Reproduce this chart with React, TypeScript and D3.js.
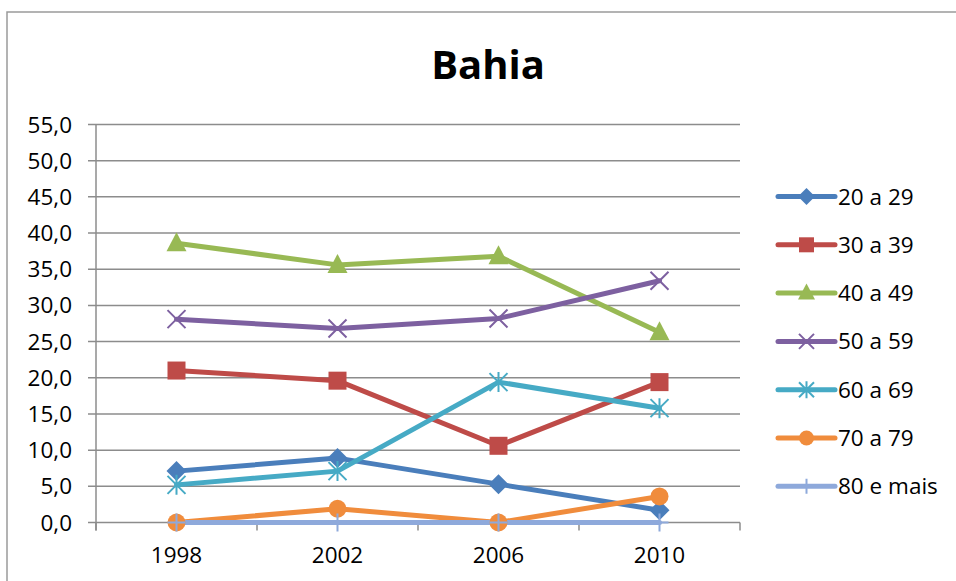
import React from "react";
import * as d3 from "d3";

const years = ["1998", "2002", "2006", "2010"];
const seriesNames = ["20 a 29", "30 a 39", "40 a 49", "50 a 59", "60 a 69", "70 a 79", "80 e mais"];
const s20 = [7.1, 8.9, 5.3, 1.7];
const s30 = [21.0, 19.6, 10.6, 19.4];
const s40 = [38.6, 35.6, 36.8, 26.3];
const s50 = [28.1, 26.8, 28.2, 33.4];
const s60 = [5.2, 7.1, 19.4, 15.8];
const s70 = [0.0, 1.9, 0.0, 3.6];
const s80 = [0.0, 0.0, 0.0, 0.0];
const yTicks = [0, 5, 10, 15, 20, 25, 30, 35, 40, 45, 50, 55];

const seriesValues = [s20, s30, s40, s50, s60, s70, s80];
const colors = ["#4A7EBB", "#BE4B48", "#98B954", "#7D60A0", "#46AAC5", "#F08C3C", "#8EA9DB"];
const markers = ["diamond", "square", "triangle", "x", "star", "circle", "plus"];

const FONT = "'Open Sans', 'Liberation Sans', sans-serif";

function Marker({ type, x, y, color, s = 9 }: { type: string; x: number; y: number; color: string; s?: number }) {
  switch (type) {
    case "diamond":
      return <path d={`M${x},${y - s - 1}L${x + s + 1},${y}L${x},${y + s + 1}L${x - s - 1},${y}Z`} fill={color} />;
    case "square":
      return <rect x={x - s} y={y - s} width={2 * s} height={2 * s} fill={color} />;
    case "triangle":
      return <path d={`M${x},${y - s - 2}L${x + s + 1},${y + s - 1}L${x - s - 1},${y + s - 1}Z`} fill={color} />;
    case "x":
      return (
        <path d={`M${x - s},${y - s}L${x + s},${y + s}M${x - s},${y + s}L${x + s},${y - s}`} stroke={color} strokeWidth={2} />
      );
    case "star":
      return (
        <path
          d={`M${x - s},${y - s}L${x + s},${y + s}M${x - s},${y + s}L${x + s},${y - s}M${x},${y - s - 1}L${x},${y + s + 1}`}
          stroke={color}
          strokeWidth={2}
        />
      );
    case "circle":
      return <circle cx={x} cy={y} r={s} fill={color} />;
    case "plus":
      return <path d={`M${x - s},${y}L${x + s},${y}M${x},${y - s}L${x},${y + s}`} stroke={color} strokeWidth={2} />;
    default:
      return null;
  }
}

export default function App() {
  const W = 956;
  const H = 581;
  const left = 96;
  const right = 740;
  const top = 124.5;
  const bottom = 522.5;

  const x = d3.scaleBand<string>().domain(years).range([left, right]);
  const y = d3.scaleLinear().domain([0, 55]).range([bottom, top]);
  const cx = (yr: string) => (x(yr) as number) + x.bandwidth() / 2;

  const line = d3
    .line<number>()
    .x((_, i) => cx(years[i]))
    .y((d) => y(d));

  const legendX1 = 778;
  const legendX2 = 835;
  const legendY0 = 196.5;
  const legendStep = 48.3;

  const bandEdges = [...years.map((yr) => x(yr) as number), right];

  return (
    <svg
      width={W}
      height={H}
      style={{ position: "absolute", left: 0, top: 0, background: "#fff" }}
      fontFamily={FONT}
    >
      <rect x={0} y={0} width={W} height={H} fill="#fff" />
      {/* chart border */}
      <path d={`M7,${H + 2}L7,12L${W + 2},12`} fill="none" stroke="#9a9a9a" strokeWidth={1.5} />

      <text x={488} y={79} textAnchor="middle" fontSize={40} fontWeight={700} fill="#000">
        Bahia
      </text>

      {/* gridlines */}
      {yTicks.map((t) => (
        <line key={t} x1={left - 8} x2={right} y1={y(t)} y2={y(t)} stroke="#8c8c8c" strokeWidth={1.5} />
      ))}
      {/* y axis */}
      <line x1={left} x2={left} y1={top} y2={bottom + 8} stroke="#8c8c8c" strokeWidth={1.5} />
      {/* x category ticks */}
      {bandEdges.map((e, i) => (
        <line key={i} x1={e} x2={e} y1={bottom} y2={bottom + 8} stroke="#8c8c8c" strokeWidth={1.5} />
      ))}

      {yTicks.map((t) => (
        <text key={t} x={72} y={y(t) + 8} textAnchor="end" fontSize={22.5} fill="#000">
          {d3.format(".1f")(t).replace(".", ",")}
        </text>
      ))}
      {years.map((yr) => (
        <text key={yr} x={cx(yr)} y={563} textAnchor="middle" fontSize={22.5} fill="#000">
          {yr}
        </text>
      ))}

      {/* series lines */}
      {seriesValues.map((vals, si) => (
        <path
          key={si}
          d={line(vals) || ""}
          fill="none"
          stroke={colors[si]}
          strokeWidth={5}
          strokeLinejoin="round"
          strokeLinecap="round"
        />
      ))}
      {seriesValues.map((vals, si) =>
        vals.map((v, i) => <Marker key={`${si}-${i}`} type={markers[si]} x={cx(years[i])} y={y(v)} color={colors[si]} />)
      )}

      {/* legend */}
      {seriesNames.map((n, i) => {
        const ly = legendY0 + i * legendStep;
        return (
          <g key={n}>
            <line x1={legendX1} x2={legendX2} y1={ly} y2={ly} stroke={colors[i]} strokeWidth={5} strokeLinecap="round" />
            <Marker type={markers[i]} x={(legendX1 + legendX2) / 2} y={ly} color={colors[i]} s={7.5} />
            <text x={838} y={ly + 8} fontSize={22.5} fill="#000">
              {n}
            </text>
          </g>
        );
      })}
    </svg>
  );
}
